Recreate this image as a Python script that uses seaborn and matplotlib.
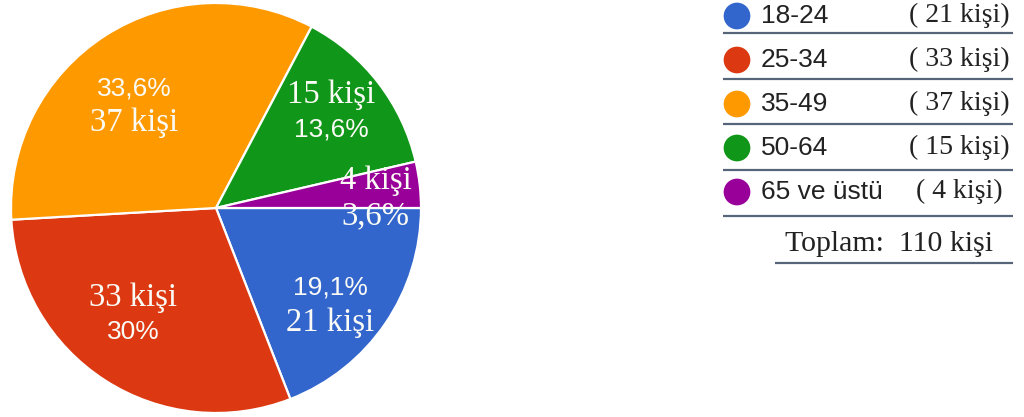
import numpy as np
import matplotlib
matplotlib.use("Agg")
import matplotlib.pyplot as plt
import seaborn as sns

# Age groups of the respondents
groups = ["18-24", "25-34", "35-49", "50-64", "65 ve üstü"]
counts = [21, 33, 37, 15, 4]
pct_labels = ["19,1%", "30%", "33,6%", "13,6%", "3,6%"]
total_label = "Toplam:  110 kişi"

colors = ["#3366CC", "#DC3912", "#FF9900", "#109618", "#990099"]

sns.set_theme(style="white")
SANS = ["Liberation Sans", "DejaVu Sans"]
SERIF = ["Liberation Serif", "DejaVu Serif"]

W, H = 1024, 417
fig = plt.figure(figsize=(W / 100, H / 100), dpi=100)
fig.patch.set_facecolor("white")

# pie axes: centre (216, 208) px, radius 205 px
cx, cy, R = 216, 208, 205
ax = fig.add_axes([(cx - R) / W, (H - cy - R) / H, 2 * R / W, 2 * R / H])
palette = sns.color_palette(colors)
wedges, _ = ax.pie(counts, colors=palette, startangle=0, counterclock=False,
                   radius=1.0,
                   wedgeprops=dict(edgecolor="white", linewidth=1.6))
ax.set_xlim(-1, 1)
ax.set_ylim(-1, 1)
ax.set_aspect("equal")
ax.axis("off")

# label placement per slice: radius fraction, angle tweak (deg), line order
label_r = [0.73, 0.66, 0.64, 0.73, 0.78]
angle_tweak = [6, 5, -6, -2, 3]
count_first = [False, True, False, True, True]
pct_serif = [False, False, False, False, True]
gap = 0.085

total = sum(counts)
start = 0.0
for i, c in enumerate(counts):
    span = 360.0 * c / total
    mid = -(start + span / 2) - angle_tweak[i]
    start += span
    x = label_r[i] * np.cos(np.radians(mid))
    y = label_r[i] * np.sin(np.radians(mid))
    count_txt = f"{c} kişi"
    pct_txt = pct_labels[i]
    top, bot = (count_txt, pct_txt) if count_first[i] else (pct_txt, count_txt)
    top_serif = count_first[i] or pct_serif[i]
    bot_serif = (not count_first[i]) or pct_serif[i]
    for txt, yy, is_serif in [(top, y + gap, top_serif), (bot, y - gap, bot_serif)]:
        ax.text(x, yy, txt, ha="center", va="center", color="#fbfbf6",
                family=SERIF if is_serif else SANS,
                fontsize=23.5 if is_serif else 19)

# legend panel drawn in pixel coordinates
lg = fig.add_axes([0, 0, 1, 1], facecolor="none")
lg.set_xlim(0, W)
lg.set_ylim(H, 0)
lg.axis("off")

row_y = [16, 60, 104, 148, 192]
line_y = [33, 79, 124, 170, 216]
sns.scatterplot(x=[737] * len(groups), y=row_y, hue=groups, palette=palette,
                s=370, linewidth=0, legend=False, ax=lg)
for i, g in enumerate(groups):
    lg.text(761, row_y[i], g, ha="left", va="center", color="#222222",
            family=SANS, fontsize=19)
    lg.text(959, row_y[i] - 1, f"( {counts[i]} kişi)", ha="center", va="center",
            color="#222222", family=SERIF, fontsize=20)
    lg.plot([723, 1013], [line_y[i], line_y[i]], color="#56657a", lw=1.6,
            solid_capstyle="butt")

lg.text(889, 244, total_label, ha="center", va="center", color="#222222",
        family=SERIF, fontsize=21.5)
lg.plot([775, 1013], [263, 263], color="#56657a", lw=1.6, solid_capstyle="butt")

fig.savefig("out.png", dpi=100, facecolor="white")
